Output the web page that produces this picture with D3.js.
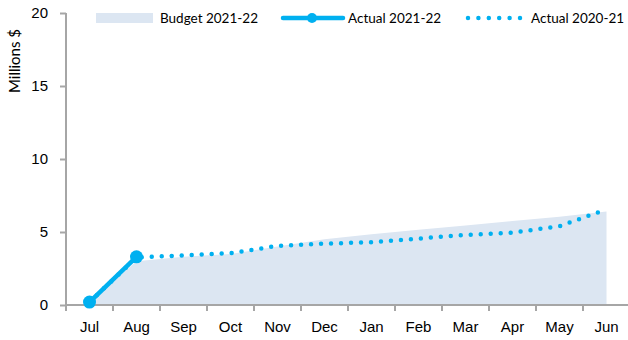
<!DOCTYPE html>
<html>
<head>
<meta charset="utf-8">
<script src="https://cdn.jsdelivr.net/npm/d3@7"></script>
<style>
  body { margin: 0; background: #fff; }
  svg { display: block; font-family: Lato, "Open Sans", sans-serif; }
  .axis path, .axis line { stroke: #a6a6a6; stroke-width: 2; }
  .axis text { font-size: 15px; fill: #000; }
</style>
</head>
<body>
<svg id="chart" width="628" height="340"></svg>
<script>
const months = ['Jul', 'Aug', 'Sep', 'Oct', 'Nov', 'Dec', 'Jan', 'Feb', 'Mar', 'Apr', 'May', 'Jun'];
const budget2122 = [0.2, 3.0, 3.3, 3.5, 4.0, 4.5, 4.85, 5.15, 5.45, 5.75, 6.05, 6.4];
const actual2122 = [0.2, 3.3];
const actual2021 = [0.2, 3.25, 3.4, 3.55, 4.05, 4.2, 4.3, 4.55, 4.8, 4.95, 5.4, 6.55];
const yTicks = [0, 5, 10, 15, 20];

const blue = '#00b0f0';
const svg = d3.select('#chart');

const x = d3.scaleBand().domain(months).range([66, 630]);
const y = d3.scaleLinear().domain([0, 20]).range([305, 13]);
const cx = m => x(m) + x.bandwidth() / 2;

// budget area
svg.append('path')
  .datum(budget2122)
  .attr('fill', '#dce6f2')
  .attr('d', d3.area()
    .x((d, i) => cx(months[i]))
    .y0(y(0))
    .y1(d => y(d)));

// axes
const xAxis = svg.append('g').attr('class', 'axis')
  .attr('transform', `translate(0,${y(0)})`)
  .call(d3.axisBottom(x).tickSize(0).tickPadding(16));
xAxis.select('.domain').attr('d', 'M66,0H628');
// tick marks between categories
xAxis.selectAll('.sep')
  .data(months)
  .enter().append('line')
  .attr('x1', d => x(d)).attr('x2', d => x(d))
  .attr('y1', 0).attr('y2', 6);

const yAxis = svg.append('g').attr('class', 'axis')
  .attr('transform', 'translate(66,0)')
  .call(d3.axisLeft(y).tickValues(yTicks).tickSize(6).tickPadding(12));
yAxis.select('.domain').attr('d', `M0,${y(20)}V${y(0)}`);

svg.append('text')
  .attr('transform', `translate(20,${(y(20) + y(0)) / 2 - 98}) rotate(-90)`)
  .attr('text-anchor', 'middle')
  .attr('font-size', 15)
  .text('Millions $');

// actual 2020-21 dotted
const line = d3.line().x((d, i) => cx(months[i])).y(d => y(d));
svg.append('path')
  .datum(actual2021)
  .attr('fill', 'none')
  .attr('stroke', blue)
  .attr('stroke-width', 4.5)
  .attr('stroke-linecap', 'round')
  .attr('stroke-dasharray', '0 10')
  .attr('d', line);

// actual 2021-22
svg.append('path')
  .datum(actual2122)
  .attr('fill', 'none')
  .attr('stroke', blue)
  .attr('stroke-width', 4.5)
  .attr('d', line);
svg.selectAll('.pt')
  .data(actual2122)
  .enter().append('circle')
  .attr('cx', (d, i) => cx(months[i]))
  .attr('cy', d => y(d))
  .attr('r', 6.5)
  .attr('fill', blue);

// legend
const lg = svg.append('g').attr('font-size', 13.5);
lg.append('rect').attr('x', 96).attr('y', 13).attr('width', 57).attr('height', 10).attr('fill', '#dce6f2');
lg.append('text').attr('x', 160).attr('y', 23).text('Budget 2021-22');
lg.append('line').attr('x1', 283).attr('x2', 343).attr('y1', 18).attr('y2', 18)
  .attr('stroke', blue).attr('stroke-width', 4.5).attr('stroke-linecap', 'round');
lg.append('circle').attr('cx', 312).attr('cy', 18).attr('r', 5).attr('fill', blue);
lg.append('text').attr('x', 348).attr('y', 23).text('Actual 2021-22');
lg.append('line').attr('x1', 468).attr('x2', 520).attr('y1', 18).attr('y2', 18)
  .attr('stroke', blue).attr('stroke-width', 4.5).attr('stroke-linecap', 'round')
  .attr('stroke-dasharray', '0 10.4');
lg.append('text').attr('x', 531).attr('y', 23).text('Actual 2020-21');
</script>
</body>
</html>
